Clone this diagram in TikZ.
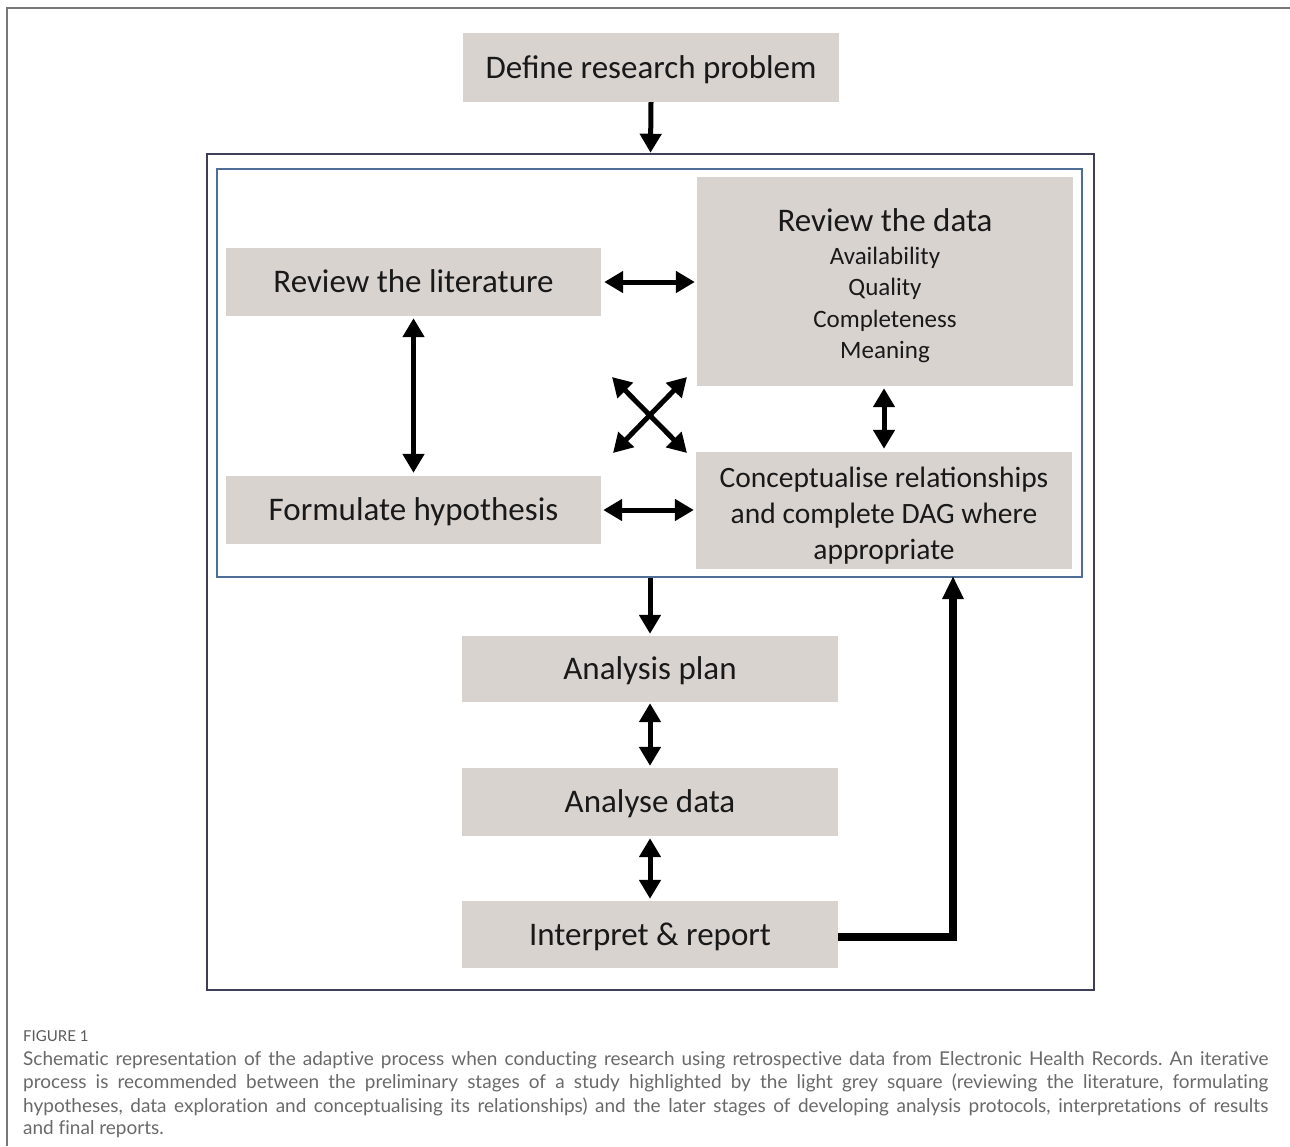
\documentclass[tikz,border=0pt]{standalone}
\usepackage{fontspec}
\setmainfont{Carlito}
\newfontfamily\capfont[Ligatures={NoCommon}]{Lato}
\usetikzlibrary{arrows.meta}
\definecolor{boxgray}{RGB}{217,211,208}
\definecolor{outerc}{RGB}{62,62,84}
\definecolor{innerc}{RGB}{79,109,150}
\definecolor{pagec}{RGB}{120,120,120}
\definecolor{capc}{RGB}{105,105,105}
\definecolor{figc}{RGB}{90,90,90}
\definecolor{txt}{RGB}{25,25,25}
\frenchspacing
\begin{document}
\begin{tikzpicture}[x=1pt,y=-1pt,
  box/.style={fill=boxgray, inner sep=0pt, text=txt, font=\fontsize{33}{40}\selectfont, text height=21.3pt, text depth=0pt},
  plainbox/.style={fill=boxgray, inner sep=0pt},
  ln/.style={text=txt, inner sep=0pt, anchor=base},
  dbl/.style={line width=5pt, {Triangle[width=21pt,length=19pt]}-{Triangle[width=21pt,length=19pt]}},
  sgl/.style={line width=5pt, -{Triangle[width=21pt,length=19pt]}},
  capline/.style={anchor=base west, inner sep=0pt, text=capc, font=\capfont\fontsize{19}{22}\selectfont},
]
\useasboundingbox (0,0) rectangle (1290,1146);
% page frame
\draw[pagec, line width=1.5pt] (7,1146) -- (7,8) -- (1290,8);

% frames
\node[draw=outerc, line width=2.5pt, minimum width=887pt, minimum height=836pt, inner sep=0pt] (outer) at (650.5,572) {};
\node[draw=innerc, line width=2pt, minimum width=865pt, minimum height=408pt, inner sep=0pt] (inner) at (649.5,373) {};

% boxes
\node[box, minimum width=376pt, minimum height=69pt] (define) at (651,67.5) {Define research problem};
\node[box, minimum width=375pt, minimum height=68pt] (lit) at (413.5,282) {Review the literature};
\node[box, minimum width=375pt, minimum height=68pt] (hyp) at (413.5,510) {Formulate hypothesis};
\node[plainbox, minimum width=376pt, minimum height=209pt] (data) at (885,281.5) {};
\node[ln, font=\fontsize{33}{40}\selectfont] (datat) at (885,231) {Review the data};
\node[ln, font=\fontsize{25}{30}\selectfont] (d1) at (885,264) {Availability};
\node[ln, font=\fontsize{25}{30}\selectfont] (d2) at (885,295.5) {Quality};
\node[ln, font=\fontsize{25}{30}\selectfont] (d3) at (885,327) {Completeness};
\node[ln, font=\fontsize{25}{30}\selectfont] (d4) at (885,358.5) {Meaning};
\node[plainbox, minimum width=376pt, minimum height=117pt] (concept) at (884,510.5) {};
\node[ln, font=\fontsize{29.5}{36}\selectfont] (c1) at (884,487) {Conceptualise relationships};
\node[ln, font=\fontsize{29.5}{36}\selectfont] (c2) at (884,523) {and complete DAG where};
\node[ln, font=\fontsize{29.5}{36}\selectfont] (c3) at (884,559) {appropriate};
\node[box, minimum width=376pt, minimum height=66pt] (plan) at (650,669) {Analysis plan};
\node[box, minimum width=376pt, minimum height=68pt] (analyse) at (650,802) {Analyse data};
\node[box, minimum width=376pt, minimum height=67pt] (interpret) at (650,934.5) {Interpret \& report};

% connectors
\draw[sgl] (define.south) -- (outer.north);
\draw[dbl, shorten <=3pt, shorten >=2pt] (lit.east) -- (lit.east -| data.west);
\draw[dbl, shorten <=2pt, shorten >=2pt] (hyp.east) -- (hyp.east -| concept.west);
\draw[dbl, shorten <=2pt, shorten >=3pt] (lit.south) -- (hyp.north);
\draw[dbl, shorten <=2pt, shorten >=3pt] (concept.north |- data.south) -- (concept.north);
\coordinate (xa) at (612,377);
\coordinate (xb) at (687,453);
\coordinate (xc) at (687,377);
\coordinate (xd) at (613,453);
\draw[dbl] (xa) -- (xb);
\draw[dbl] (xc) -- (xd);
\draw[sgl, shorten >=2pt] (inner.south -| plan.north) -- (plan.north);
\draw[dbl, shorten <=1pt, shorten >=2pt] (plan.south) -- (analyse.north);
\draw[dbl, shorten <=2pt, shorten >=2pt] (analyse.south) -- (interpret.north);
\coordinate (fb) at (953,576);
\draw[line width=8pt, -{Triangle[width=20pt,length=23pt]}] ([yshift=-2.5pt]interpret.east) -| (fb);

% caption
\node[anchor=base west, inner sep=0pt, text=figc, font=\capfont\fontsize{15}{18}\selectfont] (fig) at (23,1041) {FIGURE 1};
\node[capline] (l1) at (23,1065) {\makebox[1245pt][s]{Schematic representation of the adaptive process when conducting research using retrospective data from Electronic Health Records. An iterative}};
\node[capline] (l2) at (23,1088.5) {\makebox[1245pt][s]{process is recommended between the preliminary stages of a study highlighted by the light grey square (reviewing the literature, formulating}};
\node[capline] (l3) at (23,1112) {\makebox[1245pt][s]{hypotheses, data exploration and conceptualising its relationships) and the later stages of developing analysis protocols, interpretations of results}};
\node[capline] (l4) at (23,1134.5) {and final reports.};
\end{tikzpicture}
\end{document}
